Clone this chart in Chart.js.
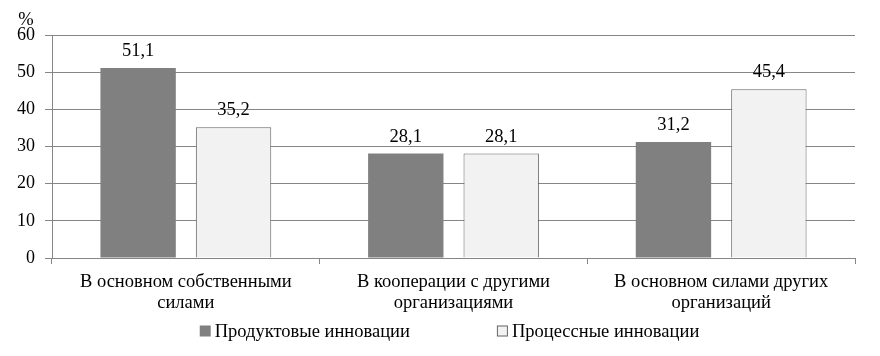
<!DOCTYPE html>
<html>
<head>
<meta charset="utf-8">
<script src="https://cdn.jsdelivr.net/npm/chart.js@4.4.1/dist/chart.umd.min.js"></script>
<style>
    html, body { margin: 0; padding: 0; background: #fff; }
    #wrap { width: 880px; height: 356px; position: relative; }
</style>
</head>
<body>
<div id="wrap"><canvas id="chart"></canvas></div>
<script>
const categories = [
    ['В основном собственными', 'силами'],
    ['В кооперации с другими', 'организациями'],
    ['В основном силами других', 'организаций']
];
const seriesNames = ['Продуктовые инновации', 'Процессные инновации'];
const productValues = [51.1, 28.1, 31.2];
const processValues = [35.2, 28.1, 45.4];
const yTicks = [0, 10, 20, 30, 40, 50, 60];

const FONT = '"Liberation Serif", "Times New Roman", serif';
const GRID = '#868686';

function fmt(v) {
    return v.toFixed(1).replace('.', ',');
}

// value labels above bars, "%" sign and the legend
const extras = {
    id: 'extras',
    afterDatasetsDraw(chart) {
        const ctx = chart.ctx;
        ctx.save();
        ctx.font = '18.5px ' + FONT;
        ctx.fillStyle = '#000';
        ctx.textAlign = 'center';
        ctx.textBaseline = 'alphabetic';
        chart.data.datasets.forEach((ds, i) => {
            chart.getDatasetMeta(i).data.forEach((bar, j) => {
                ctx.fillText(fmt(ds.data[j]), bar.x, bar.y - 12);
            });
        });

        // percent sign over the y axis
        const area = chart.chartArea;
        ctx.textBaseline = 'middle';
        ctx.fillText('%', area.left - 26, area.top - 15);

        // legend
        const box = 11, gapText = 4, gapItems = 87;
        const widths = chart.data.datasets.map(ds => box + gapText + ctx.measureText(ds.label).width);
        const total = widths.reduce((a, b) => a + b, 0) + gapItems * (widths.length - 1);
        let x = (area.left + area.right) / 2 - 4 - total / 2;
        const y = 331;
        ctx.textAlign = 'left';
        chart.data.datasets.forEach((ds, i) => {
            ctx.fillStyle = ds.backgroundColor;
            ctx.fillRect(x, y - box / 2, box, box);
            if (ds.borderWidth) {
                ctx.strokeStyle = ds.borderColor;
                ctx.lineWidth = 1;
                ctx.strokeRect(x + 0.5, y - box / 2 + 0.5, box - 1, box - 1);
            }
            ctx.fillStyle = '#000';
            ctx.fillText(ds.label, x + box + gapText, y + 1);
            x += widths[i] + gapItems;
        });
        ctx.restore();
    }
};

new Chart(document.getElementById('chart'), {
    type: 'bar',
    data: {
        labels: categories,
        datasets: [{
            label: seriesNames[0],
            data: productValues,
            backgroundColor: '#808080',
            borderWidth: 0
        }, {
            label: seriesNames[1],
            data: processValues,
            backgroundColor: '#f2f2f2',
            borderColor: '#666666',
            borderWidth: 1
        }]
    },
    options: {
        responsive: true,
        maintainAspectRatio: false,
        animation: false,
        layout: {
            padding: { top: 35, right: 25, left: 0, bottom: 0 }
        },
        datasets: {
            bar: {
                categoryPercentage: 0.713,
                barPercentage: 0.79
            }
        },
        plugins: {
            legend: { display: false },
            tooltip: { enabled: false }
        },
        scales: {
            x: {
                afterFit: s => { s.height = 98; },
                grid: {
                    display: true,
                    drawOnChartArea: false,
                    tickLength: 6,
                    color: GRID
                },
                border: { color: GRID },
                ticks: {
                    color: '#000',
                    padding: 8,
                    maxRotation: 0,
                    font: { family: FONT, size: 18.5, lineHeight: 1.12 }
                }
            },
            y: {
                min: 0,
                max: 60,
                afterFit: s => { s.width = 52; },
                afterBuildTicks: s => { s.ticks = yTicks.map(v => ({ value: v })); },
                grid: {
                    color: GRID,
                    tickLength: 7
                },
                border: { color: GRID },
                ticks: {
                    color: '#000',
                    padding: 10,
                    font: { family: FONT, size: 18 }
                }
            }
        }
    },
    plugins: [extras]
});
</script>
</body>
</html>
